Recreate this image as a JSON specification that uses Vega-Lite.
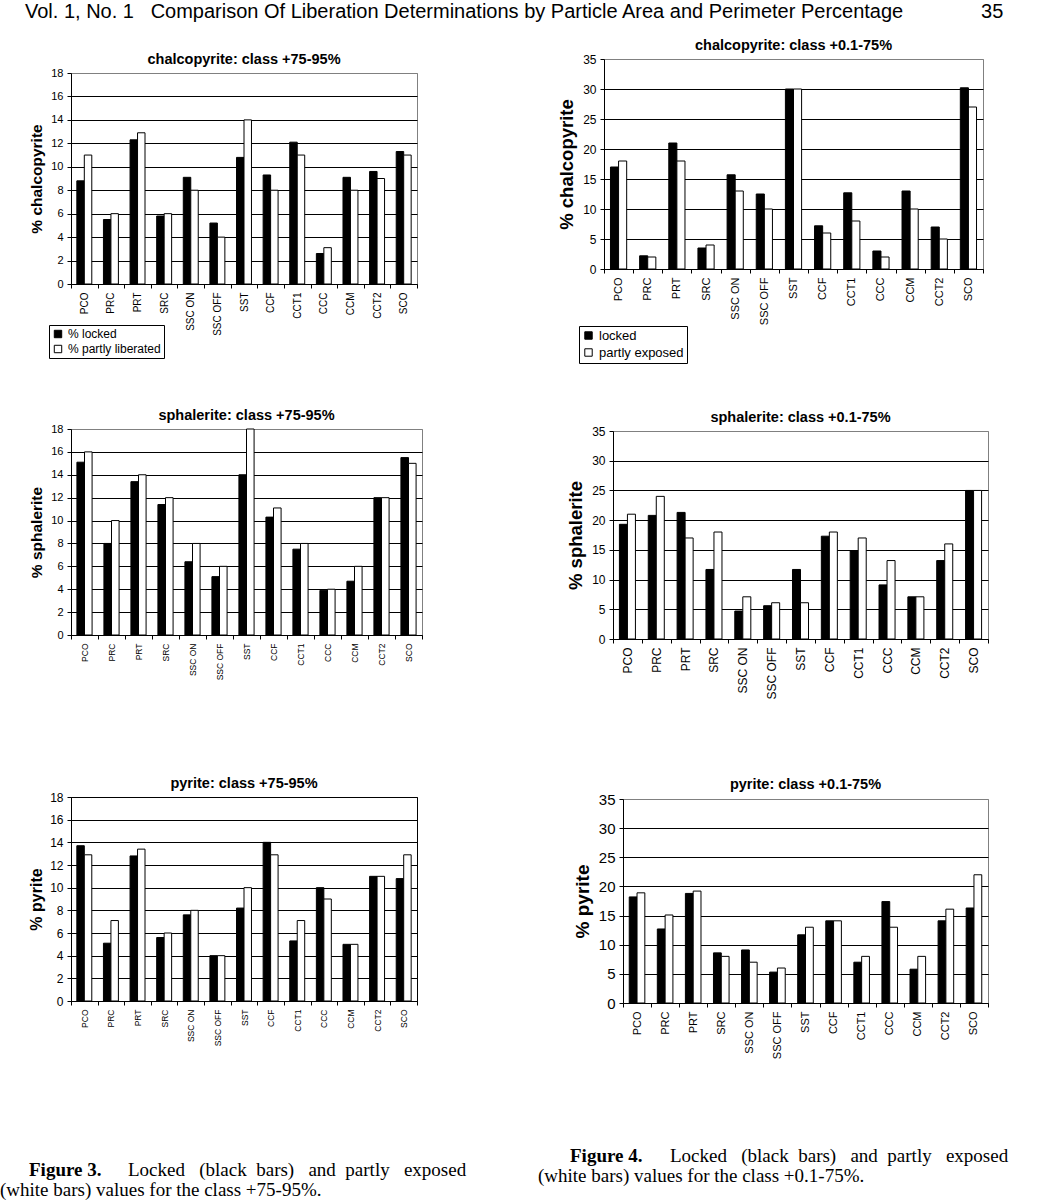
{
  "$schema": "https://vega.github.io/schema/vega-lite/v6.json",
  "background": "white",
  "padding": {"left": 0, "top": 1, "right": 0, "bottom": 0},
  "title": {
    "text": "Vol. 1, No. 1\u00a0\u00a0\u00a0Comparison Of Liberation Determinations by Particle Area and Perimeter Percentage\u00a0\u00a0\u00a0\u00a0\u00a0\u00a0\u00a0\u00a0\u00a0\u00a0\u00a0\u00a0\u00a0\u00a035",
    "anchor": "start",
    "dx": 25,
    "fontSize": 20,
    "fontWeight": "normal",
    "offset": 9
  },
  "datasets": {
    "chalcopyrite_75_95": [
      {"sample": "PCO", "type": "locked", "value": 8.8}, {"sample": "PCO", "type": "partly", "value": 11},
      {"sample": "PRC", "type": "locked", "value": 5.5}, {"sample": "PRC", "type": "partly", "value": 6},
      {"sample": "PRT", "type": "locked", "value": 12.3}, {"sample": "PRT", "type": "partly", "value": 12.9},
      {"sample": "SRC", "type": "locked", "value": 5.8}, {"sample": "SRC", "type": "partly", "value": 6},
      {"sample": "SSC ON", "type": "locked", "value": 9.1}, {"sample": "SSC ON", "type": "partly", "value": 8},
      {"sample": "SSC OFF", "type": "locked", "value": 5.2}, {"sample": "SSC OFF", "type": "partly", "value": 4},
      {"sample": "SST", "type": "locked", "value": 10.8}, {"sample": "SST", "type": "partly", "value": 14},
      {"sample": "CCF", "type": "locked", "value": 9.3}, {"sample": "CCF", "type": "partly", "value": 8},
      {"sample": "CCT1", "type": "locked", "value": 12.1}, {"sample": "CCT1", "type": "partly", "value": 11},
      {"sample": "CCC", "type": "locked", "value": 2.6}, {"sample": "CCC", "type": "partly", "value": 3.1},
      {"sample": "CCM", "type": "locked", "value": 9.1}, {"sample": "CCM", "type": "partly", "value": 8},
      {"sample": "CCT2", "type": "locked", "value": 9.6}, {"sample": "CCT2", "type": "partly", "value": 9},
      {"sample": "SCO", "type": "locked", "value": 11.3}, {"sample": "SCO", "type": "partly", "value": 11}
    ],
    "chalcopyrite_01_75": [
      {"sample": "PCO", "type": "locked", "value": 17}, {"sample": "PCO", "type": "partly", "value": 18},
      {"sample": "PRC", "type": "locked", "value": 2.2}, {"sample": "PRC", "type": "partly", "value": 2},
      {"sample": "PRT", "type": "locked", "value": 21}, {"sample": "PRT", "type": "partly", "value": 18},
      {"sample": "SRC", "type": "locked", "value": 3.5}, {"sample": "SRC", "type": "partly", "value": 4},
      {"sample": "SSC ON", "type": "locked", "value": 15.7}, {"sample": "SSC ON", "type": "partly", "value": 13},
      {"sample": "SSC OFF", "type": "locked", "value": 12.5}, {"sample": "SSC OFF", "type": "partly", "value": 10},
      {"sample": "SST", "type": "locked", "value": 30}, {"sample": "SST", "type": "partly", "value": 30},
      {"sample": "CCF", "type": "locked", "value": 7.2}, {"sample": "CCF", "type": "partly", "value": 6},
      {"sample": "CCT1", "type": "locked", "value": 12.7}, {"sample": "CCT1", "type": "partly", "value": 8},
      {"sample": "CCC", "type": "locked", "value": 3}, {"sample": "CCC", "type": "partly", "value": 2},
      {"sample": "CCM", "type": "locked", "value": 13}, {"sample": "CCM", "type": "partly", "value": 10},
      {"sample": "CCT2", "type": "locked", "value": 7}, {"sample": "CCT2", "type": "partly", "value": 5},
      {"sample": "SCO", "type": "locked", "value": 30.2}, {"sample": "SCO", "type": "partly", "value": 27}
    ],
    "sphalerite_75_95": [
      {"sample": "PCO", "type": "locked", "value": 15.1}, {"sample": "PCO", "type": "partly", "value": 16},
      {"sample": "PRC", "type": "locked", "value": 8}, {"sample": "PRC", "type": "partly", "value": 10},
      {"sample": "PRT", "type": "locked", "value": 13.4}, {"sample": "PRT", "type": "partly", "value": 14},
      {"sample": "SRC", "type": "locked", "value": 11.4}, {"sample": "SRC", "type": "partly", "value": 12},
      {"sample": "SSC ON", "type": "locked", "value": 6.4}, {"sample": "SSC ON", "type": "partly", "value": 8},
      {"sample": "SSC OFF", "type": "locked", "value": 5.1}, {"sample": "SSC OFF", "type": "partly", "value": 6},
      {"sample": "SST", "type": "locked", "value": 14}, {"sample": "SST", "type": "partly", "value": 18},
      {"sample": "CCF", "type": "locked", "value": 10.3}, {"sample": "CCF", "type": "partly", "value": 11.1},
      {"sample": "CCT1", "type": "locked", "value": 7.5}, {"sample": "CCT1", "type": "partly", "value": 8},
      {"sample": "CCC", "type": "locked", "value": 3.9}, {"sample": "CCC", "type": "partly", "value": 4},
      {"sample": "CCM", "type": "locked", "value": 4.7}, {"sample": "CCM", "type": "partly", "value": 6},
      {"sample": "CCT2", "type": "locked", "value": 12}, {"sample": "CCT2", "type": "partly", "value": 12},
      {"sample": "SCO", "type": "locked", "value": 15.5}, {"sample": "SCO", "type": "partly", "value": 15}
    ],
    "sphalerite_01_75": [
      {"sample": "PCO", "type": "locked", "value": 19.3}, {"sample": "PCO", "type": "partly", "value": 21},
      {"sample": "PRC", "type": "locked", "value": 20.8}, {"sample": "PRC", "type": "partly", "value": 24},
      {"sample": "PRT", "type": "locked", "value": 21.3}, {"sample": "PRT", "type": "partly", "value": 17},
      {"sample": "SRC", "type": "locked", "value": 11.7}, {"sample": "SRC", "type": "partly", "value": 18},
      {"sample": "SSC ON", "type": "locked", "value": 4.7}, {"sample": "SSC ON", "type": "partly", "value": 7.1},
      {"sample": "SSC OFF", "type": "locked", "value": 5.6}, {"sample": "SSC OFF", "type": "partly", "value": 6.1},
      {"sample": "SST", "type": "locked", "value": 11.7}, {"sample": "SST", "type": "partly", "value": 6.1},
      {"sample": "CCF", "type": "locked", "value": 17.3}, {"sample": "CCF", "type": "partly", "value": 18},
      {"sample": "CCT1", "type": "locked", "value": 14.8}, {"sample": "CCT1", "type": "partly", "value": 17},
      {"sample": "CCC", "type": "locked", "value": 9.1}, {"sample": "CCC", "type": "partly", "value": 13.2},
      {"sample": "CCM", "type": "locked", "value": 7.1}, {"sample": "CCM", "type": "partly", "value": 7.1},
      {"sample": "CCT2", "type": "locked", "value": 13.2}, {"sample": "CCT2", "type": "partly", "value": 16},
      {"sample": "SCO", "type": "locked", "value": 25}, {"sample": "SCO", "type": "partly", "value": 25}
    ],
    "pyrite_75_95": [
      {"sample": "PCO", "type": "locked", "value": 13.7}, {"sample": "PCO", "type": "partly", "value": 12.9},
      {"sample": "PRC", "type": "locked", "value": 5.1}, {"sample": "PRC", "type": "partly", "value": 7.1},
      {"sample": "PRT", "type": "locked", "value": 12.8}, {"sample": "PRT", "type": "partly", "value": 13.4},
      {"sample": "SRC", "type": "locked", "value": 5.6}, {"sample": "SRC", "type": "partly", "value": 6},
      {"sample": "SSC ON", "type": "locked", "value": 7.6}, {"sample": "SSC ON", "type": "partly", "value": 8},
      {"sample": "SSC OFF", "type": "locked", "value": 4}, {"sample": "SSC OFF", "type": "partly", "value": 4},
      {"sample": "SST", "type": "locked", "value": 8.2}, {"sample": "SST", "type": "partly", "value": 10},
      {"sample": "CCF", "type": "locked", "value": 14}, {"sample": "CCF", "type": "partly", "value": 12.9},
      {"sample": "CCT1", "type": "locked", "value": 5.3}, {"sample": "CCT1", "type": "partly", "value": 7.1},
      {"sample": "CCC", "type": "locked", "value": 10}, {"sample": "CCC", "type": "partly", "value": 9},
      {"sample": "CCM", "type": "locked", "value": 5}, {"sample": "CCM", "type": "partly", "value": 5},
      {"sample": "CCT2", "type": "locked", "value": 11}, {"sample": "CCT2", "type": "partly", "value": 11},
      {"sample": "SCO", "type": "locked", "value": 10.8}, {"sample": "SCO", "type": "partly", "value": 12.9}
    ],
    "pyrite_01_75": [
      {"sample": "PCO", "type": "locked", "value": 18.2}, {"sample": "PCO", "type": "partly", "value": 18.9},
      {"sample": "PRC", "type": "locked", "value": 12.7}, {"sample": "PRC", "type": "partly", "value": 15.1},
      {"sample": "PRT", "type": "locked", "value": 18.8}, {"sample": "PRT", "type": "partly", "value": 19.2},
      {"sample": "SRC", "type": "locked", "value": 8.6}, {"sample": "SRC", "type": "partly", "value": 8},
      {"sample": "SSC ON", "type": "locked", "value": 9.1}, {"sample": "SSC ON", "type": "partly", "value": 7},
      {"sample": "SSC OFF", "type": "locked", "value": 5.3}, {"sample": "SSC OFF", "type": "partly", "value": 6},
      {"sample": "SST", "type": "locked", "value": 11.7}, {"sample": "SST", "type": "partly", "value": 13},
      {"sample": "CCF", "type": "locked", "value": 14.1}, {"sample": "CCF", "type": "partly", "value": 14.1},
      {"sample": "CCT1", "type": "locked", "value": 7}, {"sample": "CCT1", "type": "partly", "value": 8},
      {"sample": "CCC", "type": "locked", "value": 17.4}, {"sample": "CCC", "type": "partly", "value": 13},
      {"sample": "CCM", "type": "locked", "value": 5.8}, {"sample": "CCM", "type": "partly", "value": 8},
      {"sample": "CCT2", "type": "locked", "value": 14.1}, {"sample": "CCT2", "type": "partly", "value": 16.1},
      {"sample": "SCO", "type": "locked", "value": 16.3}, {"sample": "SCO", "type": "partly", "value": 22}
    ]
  },
  "spacing": 0,
  "resolve": {"scale": {"fill": "independent", "xOffset": "independent", "x": "independent", "y": "independent"}, "legend": {"fill": "independent"}},
  "vconcat": [
    {
      "spacing": 139,
      "resolve": {"scale": {"fill": "independent", "xOffset": "independent", "x": "independent", "y": "independent"}, "legend": {"fill": "independent"}},
      "hconcat": [
        {
          "spacing": 0,
          "resolve": {"scale": {"fill": "independent", "xOffset": "independent", "x": "independent", "y": "independent"}, "legend": {"fill": "independent"}},
          "vconcat": [
            {"width": 10, "height": 18, "view": {"stroke": null}, "data": {"values": [{"gap": 1}]}, "mark": {"type": "point", "opacity": 0}, "encoding": {}},
            {
              "width": 346, "height": 211,
              "title": {"text": "chalcopyrite: class +75-95%", "fontSize": 14.5, "offset": 0},
              "data": {"name": "chalcopyrite_75_95"},
              "mark": {"type": "bar", "stroke": "black", "strokeWidth": 1},
              "encoding": {
                "x": {"field": "sample", "type": "nominal", "sort": null, "title": null, "scale": {"paddingInner": 0, "paddingOuter": 0},
                      "axis": {"labelAngle": -90, "labelFontSize": 10, "tickBand": "extent"}},
                "xOffset": {"field": "type", "sort": ["locked", "partly"], "scale": {"paddingInner": 0, "paddingOuter": 0.78}},
                "y": {"field": "value", "type": "quantitative", "stack": null, "scale": {"domain": [0, 18], "nice": false},
                      "axis": {"title": "% chalcopyrite", "titleFontSize": 15.5, "titlePadding": 6,
                               "values": [0, 2, 4, 6, 8, 10, 12, 14, 16, 18], "labelFontSize": 11,
                               "gridColor": {"condition": {"test": "datum.value === 18", "value": "#808080"}, "value": "black"}}},
                "fill": {"field": "type", "scale": {"domain": ["locked", "partly"], "range": ["black", "white"]},
                         "legend": {"orient": "none", "legendX": -22, "legendY": 252, "labelExpr": "datum.label === 'locked' ? '% locked' : '% partly liberated'", "labelFontSize": 12}}
              }
            }
          ]
        },
        {
          "spacing": 0,
          "resolve": {"scale": {"fill": "independent", "xOffset": "independent", "x": "independent", "y": "independent"}, "legend": {"fill": "independent"}},
          "vconcat": [
            {"width": 10, "height": 1, "view": {"stroke": null}, "data": {"values": [{"gap": 1}]}, "mark": {"type": "point", "opacity": 0}, "encoding": {}},
            {
              "width": 379, "height": 210,
              "title": {"text": "chalcopyrite: class +0.1-75%", "fontSize": 14.5, "offset": 0},
              "data": {"name": "chalcopyrite_01_75"},
              "mark": {"type": "bar", "stroke": "black", "strokeWidth": 1},
              "encoding": {
                "x": {"field": "sample", "type": "nominal", "sort": null, "title": null, "scale": {"paddingInner": 0, "paddingOuter": 0},
                      "axis": {"labelAngle": -90, "labelFontSize": 11, "tickBand": "extent"}},
                "xOffset": {"field": "type", "sort": ["locked", "partly"], "scale": {"paddingInner": 0, "paddingOuter": 0.8}},
                "y": {"field": "value", "type": "quantitative", "stack": null, "scale": {"domain": [0, 35], "nice": false},
                      "axis": {"title": "% chalcopyrite", "titleFontSize": 18.5, "titlePadding": 6,
                               "values": [0, 5, 10, 15, 20, 25, 30, 35], "labelFontSize": 12,
                               "gridColor": {"condition": {"test": "datum.value === 35", "value": "#808080"}, "value": "black"}}},
                "fill": {"field": "type", "scale": {"domain": ["locked", "partly"], "range": ["black", "white"]},
                         "legend": {"orient": "none", "legendX": -25, "legendY": 267, "labelExpr": "datum.label === 'locked' ? 'locked' : 'partly exposed'", "labelFontSize": 13}}
              }
            }
          ]
        }
      ]
    },
    {"width": 10, "height": 36, "view": {"stroke": null}, "data": {"values": [{"gap": 1}]}, "mark": {"type": "point", "opacity": 0}, "encoding": {}},
    {
      "spacing": 143,
      "resolve": {"scale": {"fill": "independent", "xOffset": "independent", "x": "independent", "y": "independent"}, "legend": {"fill": "independent"}},
      "hconcat": [
        {
          "spacing": 0,
          "resolve": {"scale": {"fill": "independent", "xOffset": "independent", "x": "independent", "y": "independent"}, "legend": {"fill": "independent"}},
          "vconcat": [
            {"width": 10, "height": 1, "view": {"stroke": null}, "data": {"values": [{"gap": 1}]}, "mark": {"type": "point", "opacity": 0}, "encoding": {}},
            {
              "width": 351, "height": 206,
              "title": {"text": "sphalerite: class +75-95%", "fontSize": 14.5, "offset": 0},
              "data": {"name": "sphalerite_75_95"},
              "mark": {"type": "bar", "stroke": "black", "strokeWidth": 1},
              "encoding": {
                "x": {"field": "sample", "type": "nominal", "sort": null, "title": null, "scale": {"paddingInner": 0, "paddingOuter": 0},
                      "axis": {"labelAngle": -90, "labelFontSize": 8.5, "tickBand": "extent"}},
                "xOffset": {"field": "type", "sort": ["locked", "partly"], "scale": {"paddingInner": 0, "paddingOuter": 0.78}},
                "y": {"field": "value", "type": "quantitative", "stack": null, "scale": {"domain": [0, 18], "nice": false},
                      "axis": {"title": "% sphalerite", "titleFontSize": 15.5, "titlePadding": 6,
                               "values": [0, 2, 4, 6, 8, 10, 12, 14, 16, 18], "labelFontSize": 11,
                               "gridColor": {"condition": {"test": "datum.value === 18", "value": "#808080"}, "value": "black"}}},
                "fill": {"field": "type", "scale": {"domain": ["locked", "partly"], "range": ["black", "white"]}, "legend": null}
              }
            }
          ]
        },
        {
          "spacing": 0,
          "resolve": {"scale": {"fill": "independent", "xOffset": "independent", "x": "independent", "y": "independent"}, "legend": {"fill": "independent"}},
          "vconcat": [
            {"width": 10, "height": 5, "view": {"stroke": null}, "data": {"values": [{"gap": 1}]}, "mark": {"type": "point", "opacity": 0}, "encoding": {}},
            {
              "width": 375, "height": 208,
              "title": {"text": "sphalerite: class +0.1-75%", "fontSize": 14.5, "offset": 0},
              "data": {"name": "sphalerite_01_75"},
              "mark": {"type": "bar", "stroke": "black", "strokeWidth": 1},
              "encoding": {
                "x": {"field": "sample", "type": "nominal", "sort": null, "title": null, "scale": {"paddingInner": 0, "paddingOuter": 0},
                      "axis": {"labelAngle": -90, "labelFontSize": 12, "tickBand": "extent"}},
                "xOffset": {"field": "type", "sort": ["locked", "partly"], "scale": {"paddingInner": 0, "paddingOuter": 0.8}},
                "y": {"field": "value", "type": "quantitative", "stack": null, "scale": {"domain": [0, 35], "nice": false},
                      "axis": {"title": "% sphalerite", "titleFontSize": 18.5, "titlePadding": 6,
                               "values": [0, 5, 10, 15, 20, 25, 30, 35], "labelFontSize": 12,
                               "gridColor": {"condition": {"test": "datum.value === 35", "value": "#808080"}, "value": "black"}}},
                "fill": {"field": "type", "scale": {"domain": ["locked", "partly"], "range": ["black", "white"]}, "legend": null}
              }
            }
          ]
        }
      ]
    },
    {"width": 10, "height": 68, "view": {"stroke": null}, "data": {"values": [{"gap": 1}]}, "mark": {"type": "point", "opacity": 0}, "encoding": {}},
    {
      "spacing": 154,
      "resolve": {"scale": {"fill": "independent", "xOffset": "independent", "x": "independent", "y": "independent"}, "legend": {"fill": "independent"}},
      "hconcat": [
        {
          "spacing": 0,
          "resolve": {"scale": {"fill": "independent", "xOffset": "independent", "x": "independent", "y": "independent"}, "legend": {"fill": "independent"}},
          "vconcat": [
            {"width": 10, "height": 1, "view": {"stroke": null}, "data": {"values": [{"gap": 1}]}, "mark": {"type": "point", "opacity": 0}, "encoding": {}},
            {
              "width": 346, "height": 204,
              "title": {"text": "pyrite: class +75-95%", "fontSize": 14.5, "offset": 0},
              "view": {"stroke": "black"},
              "data": {"name": "pyrite_75_95"},
              "mark": {"type": "bar", "stroke": "black", "strokeWidth": 1},
              "encoding": {
                "x": {"field": "sample", "type": "nominal", "sort": null, "title": null, "scale": {"paddingInner": 0, "paddingOuter": 0},
                      "axis": {"labelAngle": -90, "labelFontSize": 8.5, "tickBand": "extent"}},
                "xOffset": {"field": "type", "sort": ["locked", "partly"], "scale": {"paddingInner": 0, "paddingOuter": 0.78}},
                "y": {"field": "value", "type": "quantitative", "stack": null, "scale": {"domain": [0, 18], "nice": false},
                      "axis": {"title": "% pyrite", "titleFontSize": 16, "titlePadding": 5,
                               "values": [0, 2, 4, 6, 8, 10, 12, 14, 16, 18], "labelFontSize": 12}},
                "fill": {"field": "type", "scale": {"domain": ["locked", "partly"], "range": ["black", "white"]}, "legend": null}
              }
            }
          ]
        },
        {
          "spacing": 0,
          "resolve": {"scale": {"fill": "independent", "xOffset": "independent", "x": "independent", "y": "independent"}, "legend": {"fill": "independent"}},
          "vconcat": [
            {"width": 10, "height": 4, "view": {"stroke": null}, "data": {"values": [{"gap": 1}]}, "mark": {"type": "point", "opacity": 0}, "encoding": {}},
            {
              "width": 365, "height": 204,
              "title": {"text": "pyrite: class +0.1-75%", "fontSize": 14.5, "offset": 0},
              "data": {"name": "pyrite_01_75"},
              "mark": {"type": "bar", "stroke": "black", "strokeWidth": 1},
              "encoding": {
                "x": {"field": "sample", "type": "nominal", "sort": null, "title": null, "scale": {"paddingInner": 0, "paddingOuter": 0},
                      "axis": {"labelAngle": -90, "labelFontSize": 11, "tickBand": "extent"}},
                "xOffset": {"field": "type", "sort": ["locked", "partly"], "scale": {"paddingInner": 0, "paddingOuter": 0.8}},
                "y": {"field": "value", "type": "quantitative", "stack": null, "scale": {"domain": [0, 35], "nice": false},
                      "axis": {"title": "% pyrite", "titleFontSize": 19, "titlePadding": 6,
                               "values": [0, 5, 10, 15, 20, 25, 30, 35], "labelFontSize": 15,
                               "gridColor": {"condition": {"test": "datum.value === 35", "value": "#808080"}, "value": "black"}}},
                "fill": {"field": "type", "scale": {"domain": ["locked", "partly"], "range": ["black", "white"]}, "legend": null}
              }
            }
          ]
        }
      ]
    },
    {"width": 10, "height": 87, "view": {"stroke": null}, "data": {"values": [{"gap": 1}]}, "mark": {"type": "point", "opacity": 0}, "encoding": {}},
    {
      "spacing": 67,
      "hconcat": [
        {
          "width": 400, "height": 40,
          "view": {"stroke": null},
          "data": {"values": [
            {"line": 1, "part": "label", "text": "Figure 3."},
            {"line": 1, "part": "body", "text": "Locked\u00a0\u00a0\u00a0(black\u00a0\u00a0bars)\u00a0\u00a0\u00a0and\u00a0\u00a0partly\u00a0\u00a0\u00a0exposed"},
            {"line": 2, "part": "body", "text": "(white bars) values for the class +75-95%."}
          ]},
          "encoding": {"y": {"field": "line", "type": "ordinal", "axis": null}, "text": {"field": "text"}},
          "layer": [
            {"transform": [{"filter": "datum.part === 'label'"}], "mark": {"type": "text", "align": "left", "x": -42, "font": "Liberation Serif", "fontSize": 19, "fontWeight": "bold", "color": "black"}},
            {"transform": [{"filter": "datum.line === 1 && datum.part === 'body'"}], "mark": {"type": "text", "align": "left", "x": 57, "font": "Liberation Serif", "fontSize": 19, "color": "black"}},
            {"transform": [{"filter": "datum.line === 2"}], "mark": {"type": "text", "align": "left", "x": -71, "font": "Liberation Serif", "fontSize": 19, "color": "black"}}
          ]
        },
        {
          "width": 470, "height": 40,
          "view": {"stroke": null},
          "data": {"values": [
            {"line": 1, "part": "label", "text": "Figure 4."},
            {"line": 1, "part": "body", "text": "Locked\u00a0\u00a0\u00a0(black\u00a0\u00a0bars)\u00a0\u00a0\u00a0and\u00a0\u00a0partly\u00a0\u00a0\u00a0exposed"},
            {"line": 2, "part": "body", "text": "(white bars) values for the class +0.1-75%."}
          ]},
          "encoding": {"y": {"field": "line", "type": "ordinal", "axis": null}, "text": {"field": "text"}},
          "layer": [
            {"transform": [{"filter": "datum.part === 'label'"}], "mark": {"type": "text", "align": "left", "x": 32, "dy": -14, "font": "Liberation Serif", "fontSize": 19, "fontWeight": "bold", "color": "black"}},
            {"transform": [{"filter": "datum.line === 1 && datum.part === 'body'"}], "mark": {"type": "text", "align": "left", "x": 132, "dy": -14, "font": "Liberation Serif", "fontSize": 19, "color": "black"}},
            {"transform": [{"filter": "datum.line === 2"}], "mark": {"type": "text", "align": "left", "x": 0, "dy": -14, "font": "Liberation Serif", "fontSize": 19, "color": "black"}}
          ]
        }
      ]
    }
  ],
  "config": {
    "font": "Liberation Sans",
    "view": {"stroke": "#808080", "strokeWidth": 1},
    "title": {"font": "Liberation Sans", "fontWeight": "bold", "color": "black"},
    "axis": {
      "labelFont": "Liberation Sans", "titleFont": "Liberation Sans", "labelColor": "black", "titleColor": "black",
      "titleFontWeight": "bold", "domainColor": "black", "tickColor": "black", "gridColor": "black", "gridOpacity": 1,
      "tickSize": 4, "labelPadding": 4, "labelOverlap": false
    },
    "axisX": {"grid": false, "labelFlush": false},
    "axisY": {"grid": true},
    "legend": {
      "title": null, "direction": "vertical", "strokeColor": "black", "padding": 3, "symbolType": "square", "symbolSize": 55,
      "symbolStrokeColor": "black", "symbolStrokeWidth": 1, "labelFont": "Liberation Sans", "labelColor": "black", "rowPadding": 3
    }
  }
}
